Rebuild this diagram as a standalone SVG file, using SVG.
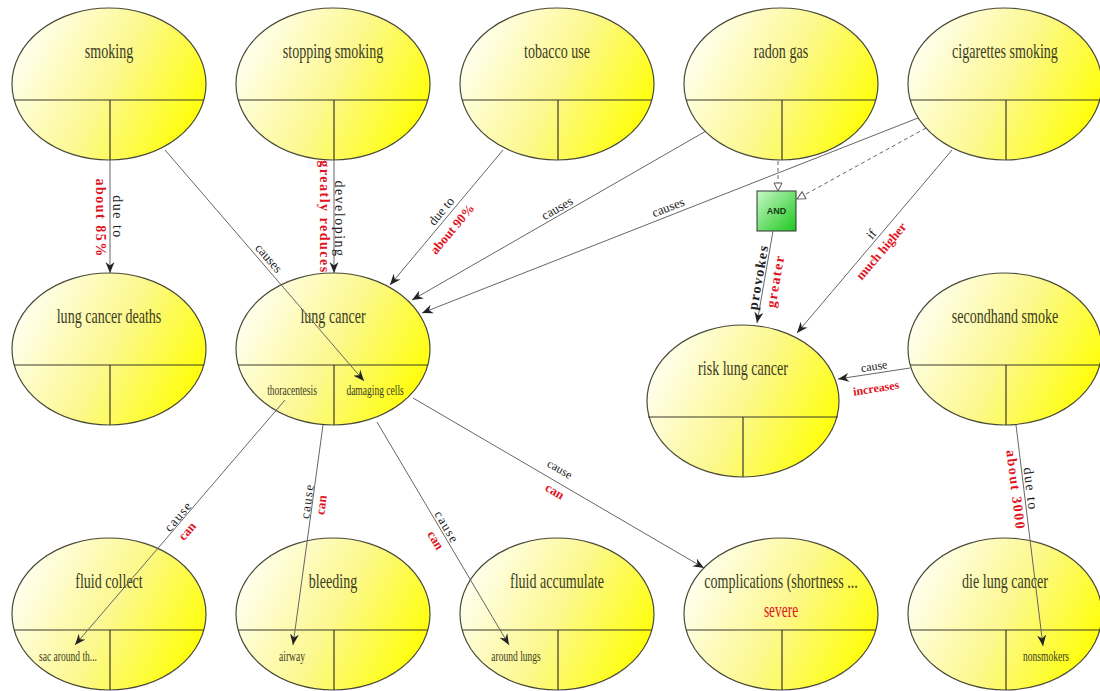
<svg xmlns="http://www.w3.org/2000/svg" width="1100" height="691" viewBox="0 0 1100 691">
<style>
.node{fill:url(#yg);stroke:#4a4a3a;stroke-width:1.2}
.div{stroke:#3a3a2a;stroke-width:1.2}
.title{font-family:"Liberation Serif",serif;font-size:21px;fill:#3c3c22;text-anchor:middle;transform-box:fill-box;transform-origin:center;transform:scaleX(0.67)}
.sub{font-family:"Liberation Serif",serif;font-size:14px;fill:#3c3c22;text-anchor:middle;transform-box:fill-box;transform-origin:center;transform:scaleX(0.68)}
.sev{font-family:"Liberation Serif",serif;font-size:20px;fill:#e0141e;text-anchor:middle;transform-box:fill-box;transform-origin:center;transform:scaleX(0.67)}
.edge{stroke:#666;stroke-width:1;fill:none}
.arr{marker-end:url(#arr)}
.dash{stroke:#666;stroke-width:1;fill:none;stroke-dasharray:4 3;marker-end:url(#tri)}
.lb{font-family:"Liberation Serif",serif;fill:#222;text-anchor:middle}
.red{fill:#e0141e;font-weight:bold}
.v{font-size:14px;letter-spacing:1.5px}
.b{font-weight:bold}
.d{font-size:13px}
.s{font-size:12px}
.sp{font-size:13px;letter-spacing:1.3px}
</style>
<defs>
<linearGradient id="yg" x1="0" y1="0.3" x2="1" y2="0.7">
<stop offset="0" stop-color="#fffff4"/>
<stop offset="0.5" stop-color="#fcf890"/>
<stop offset="1" stop-color="#ffff00"/>
</linearGradient>
<linearGradient id="gg" x1="0" y1="0" x2="1" y2="1">
<stop offset="0" stop-color="#c8f8c8"/>
<stop offset="1" stop-color="#1ec81e"/>
</linearGradient>
<marker id="arr" markerWidth="12" markerHeight="10" refX="11" refY="5" orient="auto" markerUnits="userSpaceOnUse">
<path d="M0,0.5 L11,5 L0,9.5 L3.5,5 z" fill="#222"/>
</marker>
<marker id="tri" markerWidth="10" markerHeight="10" refX="9" refY="5" orient="auto" markerUnits="userSpaceOnUse">
<path d="M1,1 L9,5 L1,9 z" fill="#fff" stroke="#555" stroke-width="1"/>
</marker>
</defs>
<rect width="1100" height="691" fill="#fff"/>

<g id="n-smoking">
<ellipse class="node" cx="109" cy="84" rx="97" ry="76"/>
<line class="div" x1="14" y1="100" x2="204" y2="100"/><line class="div" x1="110" y1="100" x2="110" y2="160"/>
<text class="title" x="109" y="58">smoking</text>
</g>
<g id="n-stopping-smoking">
<ellipse class="node" cx="333" cy="84" rx="97" ry="76"/>
<line class="div" x1="238" y1="100" x2="428" y2="100"/><line class="div" x1="334" y1="100" x2="334" y2="160"/>
<text class="title" x="333" y="58">stopping smoking</text>
</g>
<g id="n-tobacco-use">
<ellipse class="node" cx="557" cy="84" rx="97" ry="76"/>
<line class="div" x1="462" y1="100" x2="652" y2="100"/><line class="div" x1="558" y1="100" x2="558" y2="160"/>
<text class="title" x="557" y="58">tobacco use</text>
</g>
<g id="n-radon-gas">
<ellipse class="node" cx="781" cy="84" rx="97" ry="76"/>
<line class="div" x1="686" y1="100" x2="876" y2="100"/><line class="div" x1="782" y1="100" x2="782" y2="160"/>
<text class="title" x="781" y="58">radon gas</text>
</g>
<g id="n-cigarettes-smoking">
<ellipse class="node" cx="1005" cy="84" rx="97" ry="76"/>
<line class="div" x1="910" y1="100" x2="1100" y2="100"/><line class="div" x1="1006" y1="100" x2="1006" y2="160"/>
<text class="title" x="1005" y="58">cigarettes smoking</text>
</g>

<g id="n-lung-cancer-deaths">
<ellipse class="node" cx="109" cy="349" rx="97" ry="76"/>
<line class="div" x1="14" y1="365" x2="204" y2="365"/><line class="div" x1="110" y1="365" x2="110" y2="425"/>
<text class="title" x="109" y="323">lung cancer deaths</text>
</g>
<g id="n-lung-cancer">
<ellipse class="node" cx="333" cy="349" rx="97" ry="76"/>
<line class="div" x1="238" y1="365" x2="428" y2="365"/><line class="div" x1="334" y1="365" x2="334" y2="425"/>
<text class="title" x="333" y="323">lung cancer</text>
<text class="sub" x="292" y="395">thoracentesis</text>
<text class="sub" x="375" y="395">damaging cells</text>
</g>
<g id="n-risk-lung-cancer">
<ellipse class="node" cx="743" cy="401" rx="96" ry="76"/>
<line class="div" x1="648" y1="417" x2="838" y2="417"/><line class="div" x1="743" y1="417" x2="743" y2="477"/>
<text class="title" x="743" y="375">risk lung cancer</text>
</g>
<g id="n-secondhand-smoke">
<ellipse class="node" cx="1005" cy="349" rx="97" ry="76"/>
<line class="div" x1="910" y1="365" x2="1100" y2="365"/><line class="div" x1="1006" y1="365" x2="1006" y2="425"/>
<text class="title" x="1005" y="323">secondhand smoke</text>
</g>

<g id="n-fluid-collect">
<ellipse class="node" cx="109" cy="614" rx="97" ry="76"/>
<line class="div" x1="14" y1="630" x2="204" y2="630"/><line class="div" x1="110" y1="630" x2="110" y2="690"/>
<text class="title" x="109" y="588">fluid collect</text>
<text class="sub" x="68" y="661">sac around th...</text>
</g>
<g id="n-bleeding">
<ellipse class="node" cx="333" cy="614" rx="97" ry="76"/>
<line class="div" x1="238" y1="630" x2="428" y2="630"/><line class="div" x1="334" y1="630" x2="334" y2="690"/>
<text class="title" x="333" y="588">bleeding</text>
<text class="sub" x="292" y="661">airway</text>
</g>
<g id="n-fluid-accumulate">
<ellipse class="node" cx="557" cy="614" rx="97" ry="76"/>
<line class="div" x1="462" y1="630" x2="652" y2="630"/><line class="div" x1="558" y1="630" x2="558" y2="690"/>
<text class="title" x="557" y="588">fluid accumulate</text>
<text class="sub" x="516" y="661">around lungs</text>
</g>
<g id="n-complications">
<ellipse class="node" cx="781" cy="614" rx="97" ry="76"/>
<line class="div" x1="686" y1="630" x2="876" y2="630"/><line class="div" x1="782" y1="630" x2="782" y2="690"/>
<text class="title" x="781" y="588">complications (shortness ...</text>
<text class="sev" x="781" y="617">severe</text>
</g>
<g id="n-die-lung-cancer">
<ellipse class="node" cx="1005" cy="614" rx="97" ry="76"/>
<line class="div" x1="910" y1="630" x2="1100" y2="630"/><line class="div" x1="1006" y1="630" x2="1006" y2="690"/>
<text class="title" x="1005" y="588">die lung cancer</text>
<text class="sub" x="1046" y="661">nonsmokers</text>
</g>

<g id="n-and">
<rect x="757" y="191" width="39" height="40" fill="url(#gg)" stroke="#333" stroke-width="1"/>
<text x="776.5" y="214" font-family="Liberation Sans,sans-serif" font-size="9" font-weight="bold" fill="#143c14" text-anchor="middle">AND</text>
</g>

<g id="connectors">
<line class="edge arr" x1="110" y1="160" x2="110" y2="273"/>
<text class="lb v" transform="translate(118,217) rotate(90)" dy="0.35em">due to</text>
<text class="lb v red" transform="translate(101,218) rotate(90)" dy="0.35em">about 85%</text>

<line class="edge arr" x1="334" y1="160" x2="334" y2="273"/>
<text class="lb v" transform="translate(340,219) rotate(90)" dy="0.35em">developing</text>
<text class="lb v red" transform="translate(325,217) rotate(90)" dy="0.35em">greatly reduces</text>

<line class="edge arr" x1="165" y1="150" x2="364" y2="381"/>
<text class="lb d" transform="translate(269,258) rotate(49)" dy="0.35em">causes</text>

<line class="edge arr" x1="503" y1="150" x2="390" y2="285"/>
<text class="lb d" transform="translate(441,211) rotate(-50)" dy="0.35em">due to</text>
<text class="lb d red" transform="translate(452,229) rotate(-50)" dy="0.35em">about 90%</text>

<line class="edge arr" x1="706" y1="131" x2="412" y2="300"/>
<text class="lb d" transform="translate(557,208) rotate(-29.9)" dy="0.35em">causes</text>

<line class="edge arr" x1="918" y1="118" x2="422" y2="313"/>
<text class="lb d" transform="translate(668,207) rotate(-21.5)" dy="0.35em">causes</text>

<line class="dash" x1="778" y1="161" x2="778" y2="191"/>
<line class="dash" x1="926" y1="128" x2="797" y2="199"/>

<line class="edge arr" x1="773" y1="231" x2="757" y2="323"/>
<text class="lb v b" transform="translate(758,277) rotate(-80)" dy="0.35em">provokes</text>
<text class="lb v red" transform="translate(775,281) rotate(-80)" dy="0.35em">greater</text>

<line class="edge arr" x1="952" y1="150" x2="797" y2="333"/>
<text class="lb d" transform="translate(871,234) rotate(-49.7)" dy="0.35em">if</text>
<text class="lb d red" transform="translate(881,251) rotate(-49.7)" dy="0.35em">much higher</text>

<line class="edge arr" x1="910" y1="368" x2="838" y2="379"/>
<text class="lb s" transform="translate(874,366) rotate(-8.7)" dy="0.35em">cause</text>
<text class="lb s red" transform="translate(876,388) rotate(-8.7)" dy="0.35em">increases</text>

<line class="edge arr" x1="1016" y1="425" x2="1043" y2="646"/>
<text class="lb v" transform="translate(1031,489) rotate(83)" dy="0.35em">due to</text>
<text class="lb v red" transform="translate(1016,490) rotate(83)" dy="0.35em">about 3000</text>

<line class="edge arr" x1="285" y1="400" x2="75" y2="645"/>
<text class="lb sp" transform="translate(178,516) rotate(-49.4)" dy="0.35em">cause</text>
<text class="lb d red" transform="translate(187,531) rotate(-49.4)" dy="0.35em">can</text>

<line class="edge arr" x1="323" y1="425" x2="293" y2="645"/>
<text class="lb sp" transform="translate(307,501) rotate(-82.2)" dy="0.35em">cause</text>
<text class="lb d red" transform="translate(321,505) rotate(-82.2)" dy="0.35em">can</text>

<line class="edge arr" x1="377" y1="422" x2="509" y2="645"/>
<text class="lb sp" transform="translate(447,527) rotate(59.4)" dy="0.35em">cause</text>
<text class="lb d red" transform="translate(436,540) rotate(59.4)" dy="0.35em">can</text>

<line class="edge arr" x1="413" y1="398" x2="704" y2="568"/>
<text class="lb s" transform="translate(560,469) rotate(30.3)" dy="0.35em">cause</text>
<text class="lb d red" transform="translate(555,491) rotate(30.3)" dy="0.35em">can</text>
</g>
</svg>
